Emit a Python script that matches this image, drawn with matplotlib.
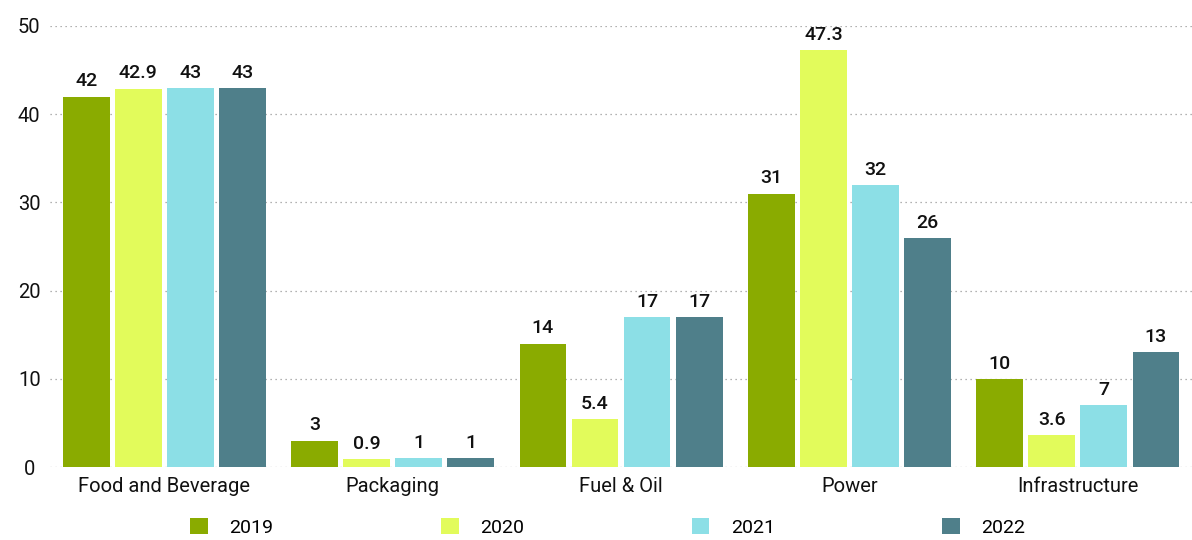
import matplotlib.pyplot as plt
import numpy as np

plt.rcParams['font.family'] = ['Roboto', 'DejaVu Sans']

categories = ['Food and Beverage', 'Packaging', 'Fuel & Oil', 'Power', 'Infrastructure']
years = ['2019', '2020', '2021', '2022']
values_2019 = [42, 3, 14, 31, 10]
values_2020 = [42.9, 0.9, 5.4, 47.3, 3.6]
values_2021 = [43, 1, 17, 32, 7]
values_2022 = [43, 1, 17, 26, 13]
series = [values_2019, values_2020, values_2021, values_2022]
colors = ['#8aab00', '#e2fb5b', '#8cdfe6', '#4f7f8a']

fig = plt.figure(figsize=(11.92, 5.4), dpi=100)
ax = fig.add_axes([0.042, 0.135, 0.958, 0.817])

x = np.arange(len(categories))
slot = 0.228
width = 0.205
for i, (vals, col, yr) in enumerate(zip(series, colors, years)):
    pos = x + (i - 1.5) * slot
    bars = ax.bar(pos, vals, width=width, color=col, label=yr, zorder=3)
    for b, v in zip(bars, vals):
        ax.text(b.get_x() + b.get_width() / 2, v + 0.7, f'{v:g}',
                ha='center', va='bottom', fontsize=14, fontweight='medium',
                color='#111111')

ax.set_xlim(-0.5, 4.5)
ax.set_ylim(0, 50)
ax.set_yticks([0, 10, 20, 30, 40, 50])
ax.set_xticks(x)
ax.set_xticklabels(categories, fontsize=14.5, color='#111111')
ax.tick_params(axis='x', length=0, pad=7)
ax.tick_params(axis='y', length=0, pad=15, labelsize=14.5, labelcolor='#111111')
for lbl in ax.get_yticklabels():
    lbl.set_ha('center')

ax.yaxis.grid(True, linestyle=(0, (1, 3)), color='#999999', linewidth=0.9, zorder=0)
ax.set_axisbelow(True)
for s in ax.spines.values():
    s.set_visible(False)

fig.legend(loc='lower left', bbox_to_anchor=(0.15, -0.016, 0.72, 0.055), mode='expand',
           ncol=4, frameon=False, fontsize=14, handlelength=0.9, handleheight=0.9,
           handletextpad=1.1, borderaxespad=0.2)

fig.savefig('out.png', dpi=100)
